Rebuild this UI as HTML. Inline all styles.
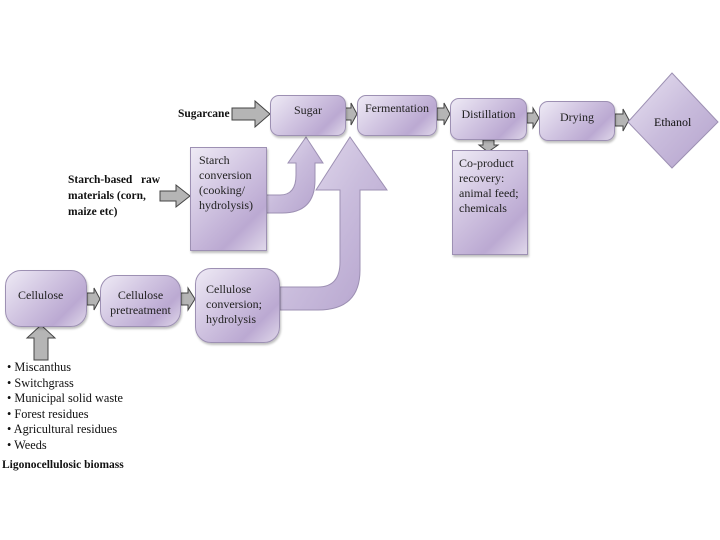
<!DOCTYPE html>
<html><head><style>
body{margin:0;width:720px;height:540px;background:#fff;overflow:hidden;position:relative;font-family:"Liberation Serif",serif;}
.b{position:absolute;box-sizing:border-box;border:1px solid #9d90b3;background:linear-gradient(135deg,#eeeaf5 0%,#d2c6e2 40%,#bba9d2 75%,#e0d8ea 100%);box-shadow:1px 2px 2px rgba(0,0,0,.25);font-size:12px;color:#222;line-height:15px;}
.r{border-radius:9px;}
.c{border-radius:16px;}
.t{position:absolute;font-size:12px;color:#111;line-height:15px;}
.bd{font-weight:bold;font-size:11.5px;}
</style></head><body>
<svg width="720" height="540" style="position:absolute;left:0;top:0">
<defs><linearGradient id="g" x1="0" y1="0" x2="1" y2="1"><stop offset="0" stop-color="#e9e3f2"/><stop offset="0.5" stop-color="#c9bcdc"/><stop offset="1" stop-color="#b3a1cc"/></linearGradient></defs>
<path d="M266,195 L280,195 Q296,195 296,175 L296,163 L288,163 L306,137 L323,163 L315,163 L315,180 Q315,213 282,213 L266,213 Z" fill="url(#g)" stroke="#9d90b3"/>
<path d="M280,287 L318,287 Q340,287 340,262 L340,190 L316,190 L350,137 L387,190 L360,190 L360,270 Q360,310 318,310 L280,310 Z" fill="url(#g)" stroke="#9d90b3"/>
<g fill="#b5b5b5" stroke="#444" stroke-width="1">
<path d="M232,108 L255,108 L255,101 L270,114 L255,127 L255,120 L232,120 Z"/>
<path d="M160,191 L176,191 L176,185 L190,196 L176,207 L176,201 L160,201 Z"/>
<path d="M345,108 L351,108 L351,103 L357,114 L351,125 L351,120 L345,120 Z"/>
<path d="M437,108 L444,108 L444,103 L450,114 L444,125 L444,120 L437,120 Z"/>
<path d="M527,113 L533,113 L533,108 L539,118 L533,128 L533,123 L527,123 Z"/>
<path d="M615,114 L623,114 L623,109 L629,120 L623,131 L623,126 L615,126 Z"/>
<path d="M483,140 L494,140 L494,145 L498,145 L488,152 L479,145 L483,145 Z"/>
<path d="M87,293 L94,293 L94,288 L100,299 L94,310 L94,305 L87,305 Z"/>
<path d="M181,293 L188,293 L188,288 L195,299 L188,310 L188,305 L181,305 Z"/>
<path d="M34,360 L34,338 L27,338 L41,325 L55,338 L48,338 L48,360 Z"/>
</g>
<polygon points="672,73 718,122 672,168 628,122" fill="url(#g)" stroke="#9d90b3"/>
</svg>
<div class="b r" style="left:270px;top:95px;width:76px;height:41px;text-align:center;padding-top:7px">Sugar</div>
<div class="b r" style="left:357px;top:95px;width:80px;height:41px;text-align:center;padding-top:5px">Fermentation</div>
<div class="b r" style="left:450px;top:98px;width:77px;height:42px;text-align:center;padding-top:8px">Distillation</div>
<div class="b r" style="left:539px;top:101px;width:76px;height:40px;text-align:center;padding-top:8px">Drying</div>
<div class="t" style="left:654px;top:115px">Ethanol</div>
<div class="b" style="left:190px;top:147px;width:77px;height:104px;padding:5px 0 0 8px">Starch<br>conversion<br>(cooking/<br>hydrolysis)</div>
<div class="b" style="left:452px;top:150px;width:76px;height:105px;padding:5px 0 0 6px">Co-product<br>recovery:<br>animal feed;<br>chemicals</div>
<div class="b c" style="left:5px;top:270px;width:82px;height:57px;padding:17px 0 0 12px">Cellulose</div>
<div class="b c" style="left:100px;top:275px;width:81px;height:52px;text-align:center;padding-top:12px">Cellulose<br>pretreatment</div>
<div class="b c" style="left:195px;top:268px;width:85px;height:75px;padding:13px 0 0 10px">Cellulose<br>conversion;<br>hydrolysis</div>
<div class="t bd" style="left:178px;top:107px">Sugarcane</div>
<div class="t bd" style="left:68px;top:172px;line-height:16px">Starch-based&nbsp;&nbsp; raw<br>materials (corn,<br>maize etc)</div>
<div class="t" style="left:7px;top:360px;line-height:15.6px;font-size:12.3px">• Miscanthus<br>• Switchgrass<br>• Municipal solid waste<br>• Forest residues<br>• Agricultural residues<br>• Weeds</div>
<div class="t bd" style="left:2px;top:458px">Ligonocellulosic biomass</div>
</body></html>
